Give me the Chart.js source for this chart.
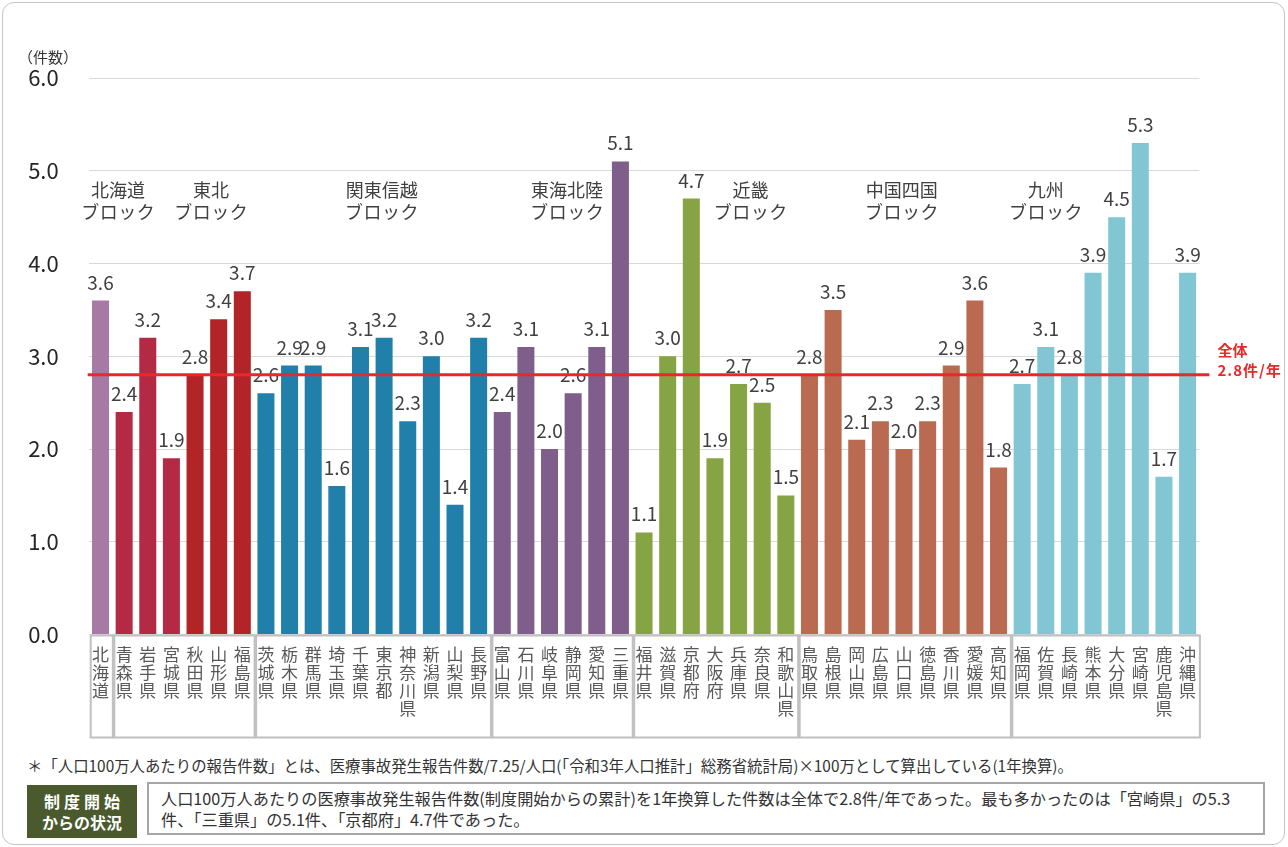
<!DOCTYPE html>
<html lang="ja">
<head>
<meta charset="utf-8">
<script src="https://cdn.jsdelivr.net/npm/chart.js@4.4.1/dist/chart.umd.min.js"></script>
<style>
    html, body { margin: 0; padding: 0; background: #fff; }
    body { width: 1288px; height: 847px; position: relative; overflow: hidden; font-family: 'Noto Sans CJK JP', sans-serif; }
    .frame { position: absolute; left: 2px; top: 2px; width: 1283px; height: 843px; border: 1.5px solid #c4c4c4; border-radius: 12px; box-sizing: border-box; }
    #chartWrap { position: absolute; left: 0; top: 0; width: 1288px; height: 740px; }
    .unit { position: absolute; left: 18px; top: 46px; font-size: 15px; color: #333; }
    .note { position: absolute; left: 27px; top: 754px; font-size: 15.4px; color: #333; white-space: nowrap; }
    .tag { position: absolute; left: 27px; top: 785px; width: 110px; height: 53px; background: #4a5a2c; color: #fff; font-weight: bold; font-size: 16px; line-height: 21px; text-align: center; display: flex; flex-direction: column; justify-content: center; }
    .tag .l1 { letter-spacing: 4px; margin-left: 4px; }
    .summary { position: absolute; left: 147px; top: 782px; width: 1118px; height: 53px; border: 2px solid #a6a6a6; box-sizing: border-box; padding: 4px 12px; font-size: 16.2px; line-height: 21px; color: #333; white-space: nowrap; }
</style>
</head>
<body>
<div class="frame"></div>
<div id="chartWrap"><canvas id="rateChart"></canvas></div>
<div class="unit">（件数）</div>
<div class="note">＊「人口100万人あたりの報告件数」とは、医療事故発生報告件数/7.25/人口(「令和3年人口推計」総務省統計局)×100万として算出している(1年換算)。</div>
<div class="tag"><span class="l1">制度開始</span><span>からの状況</span></div>
<div class="summary">人口100万人あたりの医療事故発生報告件数(制度開始からの累計)を1年換算した件数は全体で2.8件/年であった。最も多かったのは「宮崎県」の5.3<br>件、「三重県」の5.1件、「京都府」4.7件であった。</div>

<script>
const prefectures = [
    '北海道',
    '青森県', '岩手県', '宮城県', '秋田県', '山形県', '福島県',
    '茨城県', '栃木県', '群馬県', '埼玉県', '千葉県', '東京都', '神奈川県', '新潟県', '山梨県', '長野県',
    '富山県', '石川県', '岐阜県', '静岡県', '愛知県', '三重県',
    '福井県', '滋賀県', '京都府', '大阪府', '兵庫県', '奈良県', '和歌山県',
    '鳥取県', '島根県', '岡山県', '広島県', '山口県', '徳島県', '香川県', '愛媛県', '高知県',
    '福岡県', '佐賀県', '長崎県', '熊本県', '大分県', '宮崎県', '鹿児島県', '沖縄県'
];
const values = [
    3.6,
    2.4, 3.2, 1.9, 2.8, 3.4, 3.7,
    2.6, 2.9, 2.9, 1.6, 3.1, 3.2, 2.3, 3.0, 1.4, 3.2,
    2.4, 3.1, 2.0, 2.6, 3.1, 5.1,
    1.1, 3.0, 4.7, 1.9, 2.7, 2.5, 1.5,
    2.8, 3.5, 2.1, 2.3, 2.0, 2.3, 2.9, 3.6, 1.8,
    2.7, 3.1, 2.8, 3.9, 4.5, 5.3, 1.7, 3.9
];
const blockNames = ['北海道', '東北', '関東信越', '東海北陸', '近畿', '中国四国', '九州'];
const blockSizes = [1, 6, 10, 6, 7, 9, 8];
const yTicks = [0, 1, 2, 3, 4, 5, 6];
const nationalAverage = 2.8;

const blockColors = ['#a67aa4', '#b42a44', '#2180aa', '#7f5e8c', '#87a445', '#b96a50', '#82c6d3'];
const tohokuSouth = '#b22428';
// where each block caption sits, in category index units
const captionAnchors = [0.74, 4.68, 11.9, 19.74, 27.5, 33.9, 40.0];

const barColors = [];
blockSizes.forEach((n, b) => {
    for (let i = 0; i < n; i++) {
        barColors.push(b === 1 && i >= 3 ? tohokuSouth : blockColors[b]);
    }
});

const FONT = "'Noto Sans CJK JP', sans-serif";

// draw a string centred on cx, one glyph every `pitch` px
function spacedText(ctx, text, cx, cy, pitch) {
    const chars = text.split('');
    const x0 = cx - pitch * (chars.length - 1) / 2;
    chars.forEach((c, i) => ctx.fillText(c, x0 + i * pitch, cy));
}

const overlayPlugin = {
    id: 'overlay',
    afterDatasetsDraw(chart) {
        const { ctx, chartArea, scales: { x, y } } = chart;
        const meta = chart.getDatasetMeta(0);
        ctx.save();

        // value labels
        ctx.font = '19px ' + FONT;
        ctx.fillStyle = '#404040';
        ctx.textAlign = 'center';
        ctx.textBaseline = 'alphabetic';
        meta.data.forEach((bar, i) => {
            ctx.fillText(values[i].toFixed(1), bar.x, bar.y - 11);
        });

        // block captions
        ctx.font = '18px ' + FONT;
        ctx.fillStyle = '#404040';
        ctx.textBaseline = 'middle';
        blockNames.forEach((name, i) => {
            const cx = x.getPixelForValue(captionAnchors[i]);
            ctx.fillText(name, cx, chartArea.top + 112);
            spacedText(ctx, 'ブロック', cx, chartArea.top + 134, 18.5);
        });

        // national average line
        const ay = y.getPixelForValue(nationalAverage);
        ctx.strokeStyle = '#e8292b';
        ctx.lineWidth = 3;
        ctx.beginPath();
        ctx.moveTo(chartArea.left - 1, ay);
        ctx.lineTo(chartArea.right + 10, ay);
        ctx.stroke();

        ctx.font = 'bold 15px ' + FONT;
        ctx.fillStyle = '#e8292b';
        ctx.textAlign = 'left';
        ctx.fillText('全体', chartArea.right + 18, ay - 25);
        ctx.letterSpacing = '1px';
        ctx.fillText(nationalAverage.toFixed(1) + '件/年', chartArea.right + 18, ay - 5);
        ctx.restore();
    },
    afterDraw(chart) {
        const { ctx, chartArea, scales: { x } } = chart;
        const step = x.getPixelForValue(1) - x.getPixelForValue(0);
        ctx.save();
        ctx.strokeStyle = '#c0c0c0';
        ctx.lineWidth = 2;
        let start = 0;
        blockSizes.forEach(n => {
            const left = x.getPixelForValue(start) - step / 2 + 2;
            const right = x.getPixelForValue(start + n - 1) + step / 2 + 0.5;
            ctx.strokeRect(left, chartArea.bottom + 1, right - left, 102);
            start += n;
        });
        ctx.restore();
    }
};

new Chart(document.getElementById('rateChart'), {
    type: 'bar',
    data: {
        labels: prefectures.map(p => p.split('')),
        datasets: [{
            data: values,
            backgroundColor: barColors,
            borderWidth: 0,
            categoryPercentage: 1.0,
            barPercentage: 0.72
        }]
    },
    options: {
        responsive: true,
        maintainAspectRatio: false,
        animation: false,
        layout: { padding: { top: 78, right: 88.6, bottom: 2, left: 0 } },
        plugins: {
            legend: { display: false },
            tooltip: { enabled: false }
        },
        scales: {
            x: {
                grid: { display: false, drawTicks: false },
                border: { display: false },
                ticks: {
                    autoSkip: false,
                    maxRotation: 0,
                    minRotation: 0,
                    padding: 11,
                    color: '#595959',
                    font: { family: FONT, size: 17, lineHeight: 1.06 }
                },
                afterFit: scale => { scale.height = 103.5; }
            },
            y: {
                min: 0,
                max: 6,
                afterBuildTicks: scale => { scale.ticks = yTicks.map(v => ({ value: v })); },
                grid: { color: '#d9d9d9', lineWidth: 1, drawTicks: false },
                border: { display: false },
                ticks: {
                    padding: 30,
                    color: '#262626',
                    font: { family: FONT, size: 22 },
                    callback: v => Number(v).toFixed(1)
                },
                afterFit: scale => { scale.width = 88.7; }
            }
        }
    },
    plugins: [overlayPlugin]
});
</script>
</body>
</html>
